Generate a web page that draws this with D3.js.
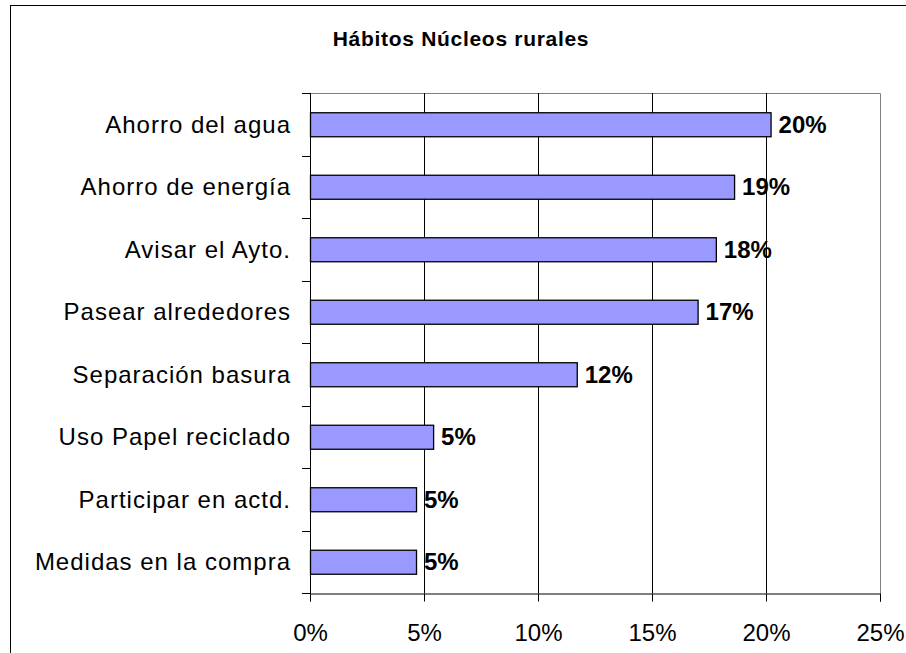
<!DOCTYPE html>
<html>
<head>
<meta charset="utf-8">
<title>Hábitos Núcleos rurales</title>
<script src="https://d3js.org/d3.v7.min.js"></script>
<style>
body { margin: 0; padding: 0; background: white; }
svg { display: block; font-family: "Liberation Sans", Arial, sans-serif; }
</style>
</head>
<body>
<svg id="chart" width="906" height="653"></svg>
<script>
// data
var categories = ['Ahorro del agua', 'Ahorro de energía', 'Avisar el Ayto.', 'Pasear alrededores',
                  'Separación basura', 'Uso Papel reciclado', 'Participar en actd.', 'Medidas en la compra'];
var values = [20.2, 18.6, 17.8, 17.0, 11.7, 5.4, 4.65, 4.65];
var valueLabels = ['20%', '19%', '18%', '17%', '12%', '5%', '5%', '5%'];
var xTicks = [0, 5, 10, 15, 20, 25];

var margin = {top: 93, left: 310, right: 26, bottom: 60};
var width = 906, height = 653;
var plotW = width - margin.left - margin.right,
    plotH = 500;

var svg = d3.select('#chart');

// outer frame (runs off the right and bottom edge)
svg.append('rect')
  .attr('x', 10.5).attr('y', 5.5)
  .attr('width', 960).attr('height', 700)
  .attr('fill', 'white').attr('stroke', 'black').attr('stroke-width', 1);

svg.append('text')
  .attr('x', 461).attr('y', 46)
  .attr('text-anchor', 'middle')
  .attr('font-size', '21px').attr('font-weight', 'bold')
  .attr('letter-spacing', '0.7px')
  .text('Hábitos Núcleos rurales');

var x = d3.scaleLinear().domain([0, 25]).range([margin.left, margin.left + plotW]);
var y = d3.scaleBand().domain(categories)
  .range([margin.top, margin.top + plotH])
  .paddingInner(0.616).paddingOuter(0.308);

var yTop = margin.top, yBottom = margin.top + plotH;

// plot area border (grey)
svg.append('path')
  .attr('d', 'M' + (x(0) + 0.5) + ',' + (yTop + 0.5) + 'H' + (x(25) + 0.5) + 'V' + (yBottom + 0.5))
  .attr('fill', 'none').attr('stroke', '#808080');

// vertical gridlines
svg.append('g').selectAll('line')
  .data(xTicks.filter(function(t) { return t > 0 && t < 25; }))
  .enter().append('line')
  .attr('x1', function(d) { return Math.round(x(d)) + 0.5; })
  .attr('x2', function(d) { return Math.round(x(d)) + 0.5; })
  .attr('y1', yTop).attr('y2', yBottom)
  .attr('stroke', 'black');

// x axis
var gx = svg.append('g')
  .attr('transform', 'translate(0,' + (yBottom + 0.5) + ')')
  .call(d3.axisBottom(x).tickValues(xTicks).tickSize(8).tickPadding(22)
        .tickFormat(function(d) { return d + '%'; }));
gx.select('.domain').attr('stroke', 'black');
gx.selectAll('.tick line').attr('stroke', 'black');
gx.selectAll('.tick text')
  .attr('font-size', '24px').attr('font-family', '"Liberation Sans", Arial, sans-serif')
  .attr('fill', 'black');

// y axis line + ticks at band boundaries
var step = y.step();
var bounds = d3.range(categories.length + 1).map(function(i) { return yTop + i * step; });
svg.append('line')
  .attr('x1', x(0) + 0.5).attr('x2', x(0) + 0.5)
  .attr('y1', yTop).attr('y2', yBottom + 8)
  .attr('stroke', 'black');
svg.append('g').selectAll('line')
  .data(bounds).enter().append('line')
  .attr('x1', x(0) - 8).attr('x2', x(0))
  .attr('y1', function(d) { return Math.round(d) + 0.5; })
  .attr('y2', function(d) { return Math.round(d) + 0.5; })
  .attr('stroke', 'black');

// category labels
svg.append('g').selectAll('text')
  .data(categories).enter().append('text')
  .attr('x', x(0) - 19)
  .attr('y', function(d) { return y(d) + y.bandwidth() / 2; })
  .attr('dy', '0.35em')
  .attr('text-anchor', 'end')
  .attr('font-size', '24px')
  .attr('letter-spacing', '1px')
  .text(function(d) { return d; });

// bars
svg.append('g').selectAll('rect')
  .data(values).enter().append('rect')
  .attr('x', x(0) + 0.5)
  .attr('y', function(d, i) { return y(categories[i]) + 0.5; })
  .attr('width', function(d) { return x(d) - x(0); })
  .attr('height', y.bandwidth())
  .attr('fill', '#9999FF')
  .attr('stroke', 'black').attr('stroke-width', 1.3);

// value labels
svg.append('g').selectAll('text')
  .data(values).enter().append('text')
  .attr('x', function(d) { return x(d) + 8; })
  .attr('y', function(d, i) { return y(categories[i]) + y.bandwidth() / 2; })
  .attr('dy', '0.35em')
  .attr('font-size', '24px').attr('font-weight', 'bold')
  .text(function(d, i) { return valueLabels[i]; });
</script>
</body>
</html>
